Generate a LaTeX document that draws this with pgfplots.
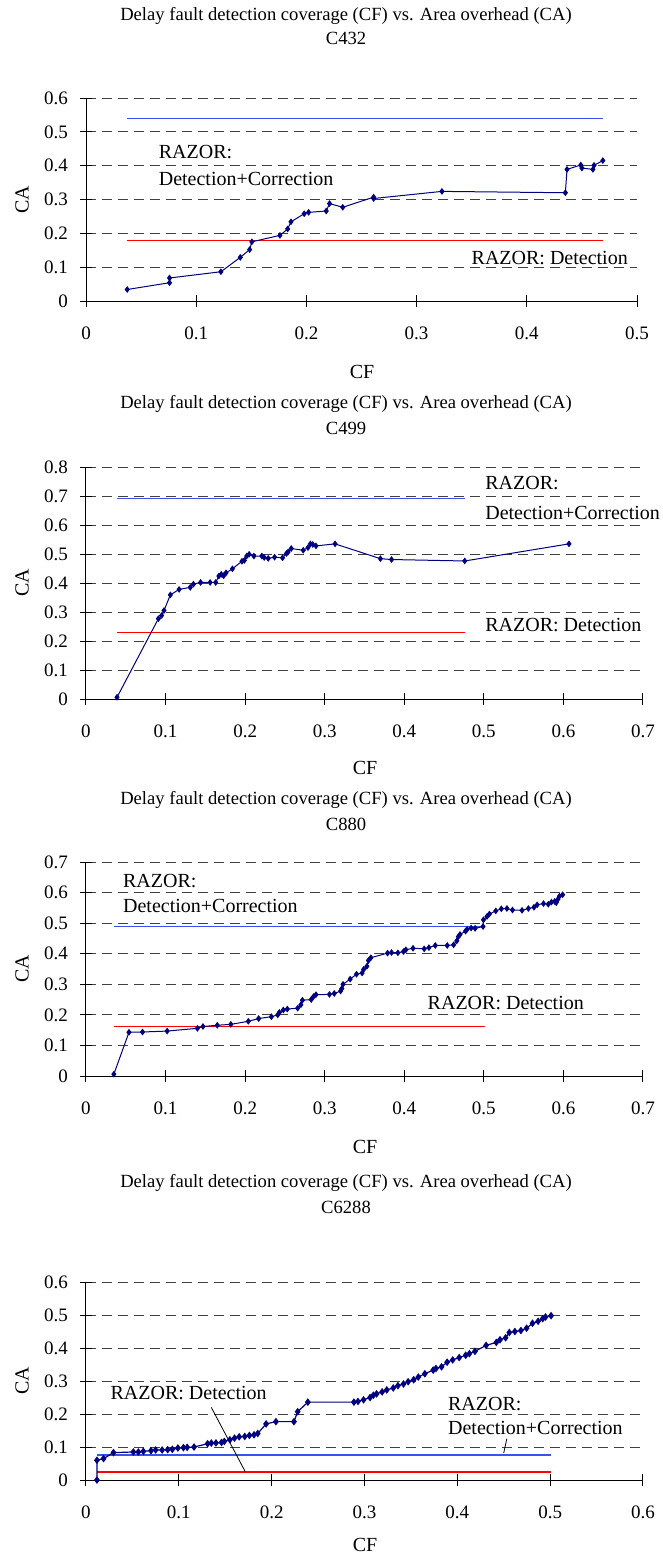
\documentclass[border=0pt]{standalone}
\usepackage{fontspec}
\setmainfont{Liberation Serif}
\usepackage{pgfplots}
\pgfplotsset{compat=1.18}

\definecolor{navy}{RGB}{0,0,128}
\definecolor{razblue}{RGB}{60,80,235}
\definecolor{razred}{RGB}{255,0,0}

\newcommand{\txt}{\fontsize{10}{12}\selectfont}
\newcommand{\ttl}{\fontsize{9.3}{11}\selectfont}

\pgfplotsset{
  excel/.style={
    scale only axis, anchor=south west,
    axis x line=bottom, axis y line=left,
    axis line style={-, black, line width=0.5pt},
    xmin=0, ymin=0, width=278.5pt,
    ymajorgrids,
    grid style={dash pattern=on 5pt off 3pt, black!75, line width=0.45pt},
    tick align=center, major tick length=6pt,
    tick style={black, line width=0.5pt},
    tick label style={font=\fontsize{9.5}{11}\selectfont},
    /pgf/number format/assume math mode=true,
    xticklabel shift=6.5pt, yticklabel shift=2.5pt,
    clip=false,
  },
  curve/.style={navy, line width=0.5pt, mark=diamond*, mark size=1.3pt,
    mark options={solid, fill=navy}},
  razb/.style={razblue, line width=0.8pt},
  razr/.style={razred, line width=0.7pt},
}

\begin{document}
\begin{tikzpicture}
\useasboundingbox (0,0) rectangle (331.5pt,-779.5pt);

% ---------- C432 ----------
\node[font=\ttl] at (173pt,-8pt) {Delay fault detection coverage (CF) vs. Area overhead (CA)};
\node[font=\ttl] at (173pt,-19pt) {C432};
\node[font=\txt] at (181pt,-186pt) {CF};
\node[font=\txt, rotate=90] at (11pt,-99.75pt) {CA};
\begin{axis}[excel, at={(43pt,-150.5pt)}, width=275.5pt, height=101.5pt,
  xmax=0.5, ymax=0.6,
  xtick={0,0.1,0.2,0.3,0.4,0.5}, ytick={0,0.1,0.2,0.3,0.4,0.5,0.6}]
\addplot[razb] coordinates {(0.0374,0.539) (0.469,0.539)};
\addplot[razr] coordinates {(0.0374,0.179) (0.469,0.179)};
\addplot[curve] coordinates {
  (0.0374,0.034) (0.0758,0.054) (0.0758,0.068) (0.1224,0.0865)
  (0.140,0.129) (0.1485,0.152) (0.1505,0.175) (0.176,0.194)
  (0.183,0.213) (0.186,0.234) (0.198,0.258) (0.202,0.262)
  (0.218,0.266) (0.221,0.288) (0.233,0.277) (0.261,0.307)
  (0.261,0.303) (0.323,0.324) (0.435,0.320) (0.4365,0.389)
  (0.449,0.402) (0.450,0.393) (0.460,0.389) (0.461,0.401) (0.469,0.415)
};
\node[anchor=west, font=\txt] at (axis cs:0.0597,0.44) {RAZOR:};
\node[anchor=west, font=\txt] at (axis cs:0.0597,0.362) {Detection+Correction};
\node[anchor=west, font=\txt] at (axis cs:0.3436,0.128) {RAZOR: Detection};
\end{axis}

% ---------- C499 ----------
\node[font=\ttl] at (173pt,-202pt) {Delay fault detection coverage (CF) vs. Area overhead (CA)};
\node[font=\ttl] at (173pt,-214pt) {C499};
\node[font=\txt] at (182.5pt,-384pt) {CF};
\node[font=\txt, rotate=90] at (11pt,-291.5pt) {CA};
\begin{axis}[excel, at={(43pt,-349.5pt)}, height=116pt,
  xmax=0.7, ymax=0.8,
  xtick={0,0.1,0.2,0.3,0.4,0.5,0.6,0.7}, ytick={0,0.1,0.2,0.3,0.4,0.5,0.6,0.7,0.8}]
\addplot[razb] coordinates {(0.039,0.692) (0.476,0.692)};
\addplot[razr] coordinates {(0.039,0.229) (0.476,0.229)};
\addplot[curve] coordinates {
  (0.039,0.006) (0.091,0.277) (0.095,0.288) (0.098,0.305) (0.106,0.359)
  (0.117,0.378) (0.131,0.385) (0.135,0.396) (0.144,0.402) (0.156,0.402)
  (0.163,0.402) (0.167,0.424) (0.170,0.430) (0.173,0.425) (0.176,0.435)
  (0.184,0.449) (0.196,0.475) (0.199,0.478) (0.202,0.493) (0.205,0.499)
  (0.211,0.493) (0.221,0.493) (0.224,0.488) (0.229,0.485) (0.237,0.489)
  (0.247,0.487) (0.252,0.502) (0.254,0.507) (0.258,0.519) (0.273,0.513)
  (0.279,0.522) (0.282,0.535) (0.285,0.533) (0.289,0.528) (0.313,0.535)
  (0.370,0.484) (0.384,0.481) (0.476,0.476) (0.607,0.535)
};
\node[anchor=west, font=\txt] at (axis cs:0.493,0.744) {RAZOR:};
\node[anchor=west, font=\txt] at (axis cs:0.493,0.641) {Detection+Correction};
\node[anchor=west, font=\txt] at (axis cs:0.493,0.256) {RAZOR: Detection};
\end{axis}

% ---------- C880 ----------
\node[font=\ttl] at (173pt,-400pt) {Delay fault detection coverage (CF) vs. Area overhead (CA)};
\node[font=\ttl] at (173pt,-412pt) {C880};
\node[font=\txt] at (182.5pt,-573.5pt) {CF};
\node[font=\txt, rotate=90] at (11pt,-484.5pt) {CA};
\begin{axis}[excel, at={(43pt,-538pt)}, height=107pt,
  xmax=0.7, ymax=0.7,
  xtick={0,0.1,0.2,0.3,0.4,0.5,0.6,0.7}, ytick={0,0.1,0.2,0.3,0.4,0.5,0.6,0.7}]
\addplot[razb] coordinates {(0.035,0.489) (0.5,0.489)};
\addplot[razr] coordinates {(0.035,0.162) (0.501,0.162)};
\addplot[curve] coordinates {
  (0.035,0.006) (0.054,0.143) (0.071,0.144) (0.102,0.147) (0.140,0.156)
  (0.147,0.162) (0.165,0.166) (0.182,0.169) (0.204,0.179) (0.217,0.188)
  (0.233,0.194) (0.241,0.200) (0.243,0.208) (0.248,0.216) (0.253,0.219)
  (0.266,0.222) (0.270,0.233) (0.272,0.248) (0.283,0.250) (0.286,0.260)
  (0.289,0.266) (0.306,0.267) (0.312,0.270) (0.320,0.278) (0.3215,0.286)
  (0.323,0.300) (0.332,0.317) (0.340,0.333) (0.347,0.337) (0.349,0.349)
  (0.353,0.359) (0.355,0.378) (0.358,0.387) (0.379,0.402) (0.384,0.404)
  (0.392,0.403) (0.399,0.407) (0.402,0.413) (0.411,0.418) (0.425,0.416)
  (0.431,0.420) (0.439,0.427) (0.454,0.427) (0.462,0.429) (0.466,0.442)
  (0.468,0.456) (0.470,0.463) (0.477,0.474) (0.479,0.480) (0.484,0.484)
  (0.489,0.483) (0.499,0.489) (0.4995,0.511) (0.504,0.522) (0.507,0.530)
  (0.515,0.540) (0.522,0.547) (0.529,0.548) (0.536,0.543) (0.548,0.542)
  (0.556,0.548) (0.563,0.552) (0.567,0.560) (0.575,0.564) (0.581,0.562)
  (0.585,0.569) (0.589,0.571) (0.591,0.567) (0.593,0.578) (0.595,0.588)
  (0.599,0.593)
};
\node[anchor=west, font=\txt] at (axis cs:0.0378,0.639) {RAZOR:};
\node[anchor=west, font=\txt] at (axis cs:0.0378,0.556) {Detection+Correction};
\node[anchor=west, font=\txt] at (axis cs:0.4206,0.239) {RAZOR: Detection};
\end{axis}

% ---------- C6288 ----------
\node[font=\ttl] at (173pt,-591.5pt) {Delay fault detection coverage (CF) vs. Area overhead (CA)};
\node[font=\ttl] at (173pt,-603.5pt) {C6288};
\node[font=\txt] at (182.5pt,-772.5pt) {CF};
\node[font=\txt, rotate=90] at (11pt,-690.5pt) {CA};
\begin{axis}[excel, at={(43pt,-740pt)}, height=99pt,
  xmax=0.6, ymax=0.6,
  xtick={0,0.1,0.2,0.3,0.4,0.5,0.6}, ytick={0,0.1,0.2,0.3,0.4,0.5,0.6}]
\addplot[razb, line width=1.1pt] coordinates {(0.0118,0.075) (0.501,0.075)};
\addplot[razr, line width=1pt] coordinates {(0.0118,0.024) (0.501,0.024)};
\addplot[curve, line width=0.6pt, mark size=1.45pt] coordinates {
  (0.0118,0.000) (0.0118,0.060) (0.0189,0.065) (0.0296,0.083) (0.051,0.085)
  (0.0564,0.085) (0.0618,0.087) (0.070,0.089) (0.075,0.091) (0.082,0.091)
  (0.088,0.092) (0.093,0.093) (0.099,0.097) (0.105,0.098) (0.109,0.099)
  (0.1164,0.100) (0.131,0.110) (0.135,0.112) (0.140,0.1125) (0.146,0.114)
  (0.149,0.117) (0.155,0.122) (0.160,0.127) (0.165,0.131) (0.171,0.132)
  (0.176,0.135) (0.181,0.137) (0.185,0.141) (0.194,0.170) (0.2046,0.177)
  (0.224,0.177) (0.228,0.207) (0.239,0.236) (0.2886,0.236) (0.293,0.238)
  (0.299,0.243) (0.306,0.250) (0.3096,0.257) (0.313,0.261) (0.319,0.267)
  (0.324,0.273) (0.331,0.279) (0.336,0.286) (0.342,0.291) (0.347,0.298)
  (0.353,0.304) (0.358,0.312) (0.365,0.322) (0.374,0.333) (0.377,0.338)
  (0.383,0.343) (0.389,0.357) (0.395,0.364) (0.402,0.371) (0.409,0.378)
  (0.413,0.383) (0.419,0.390) (0.431,0.408) (0.442,0.417) (0.446,0.425)
  (0.452,0.431) (0.456,0.447) (0.462,0.450) (0.4685,0.453) (0.4746,0.460)
  (0.481,0.475) (0.487,0.481) (0.492,0.489) (0.495,0.494) (0.501,0.498)
};
\node[font=\txt] at (axis cs:0.1106,0.263) {RAZOR: Detection};
\draw[black, line width=0.4pt] (axis cs:0.135,0.22) -- (axis cs:0.1716,0.025);
\node[anchor=west, font=\txt] at (axis cs:0.3825,0.231) {RAZOR:};
\node[anchor=west, font=\txt] at (axis cs:0.3825,0.158) {Detection+Correction};
\draw[black, line width=0.4pt] (axis cs:0.4533,0.125) -- (axis cs:0.450,0.082);
\end{axis}
\end{tikzpicture}
\end{document}
